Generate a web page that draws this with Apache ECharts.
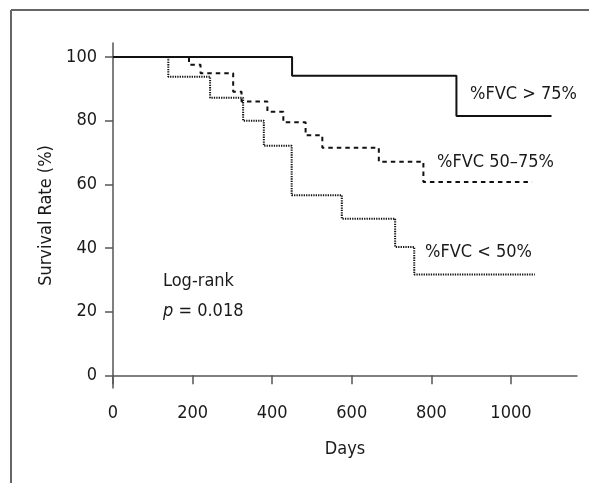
<!DOCTYPE html>
<html>
<head>
<meta charset="utf-8">
<script src="https://cdn.jsdelivr.net/npm/echarts@6/dist/echarts.min.js"></script>
<style>
  html, body { margin: 0; padding: 0; background: #fff; }
  #chart { width: 589px; height: 483px; }
</style>
</head>
<body>
<div id="chart"></div>
<script>
// Kaplan-Meier steps (days, survival %)
const highDays = [0, 450, 863, 1102];
const highSurv = [100, 94.1, 81.5, 81.5];

const midDays = [0, 191, 220, 302, 323, 388, 428, 484, 526, 668, 780, 1053];
const midSurv = [100, 97.6, 94.9, 89.1, 86, 82.8, 79.5, 75.4, 71.5, 67.1, 60.7, 60.7];

const lowDays = [0, 139, 244, 327, 379, 449, 575, 709, 757, 1060];
const lowSurv = [100, 93.8, 87.2, 80, 72.1, 56.6, 49.2, 40.3, 31.7, 31.7];

const xTicks = [0, 200, 400, 600, 800, 1000];
const yTicks = [0, 20, 40, 60, 80, 100];

const font = "'DejaVu Sans Condensed', 'Liberation Sans Narrow', sans-serif";
const ink = '#1a1a1a';
const axisColor = '#555';

function pairs(xs, ys) {
  return xs.map((x, i) => [x, ys[i]]);
}

const chart = echarts.init(document.getElementById('chart'));

chart.setOption({
  animation: false,
  grid: { left: 113, right: 12, top: 43, bottom: 95 },
  xAxis: {
    type: 'value',
    min: 0,
    max: 1166,
    name: 'Days',
    nameLocation: 'middle',
    nameGap: 52,
    nameTextStyle: { color: ink, fontSize: 18, fontFamily: font },
    axisLine: { show: true, lineStyle: { color: axisColor, width: 1.5 } },
    axisTick: { show: true, length: 9, customValues: xTicks, lineStyle: { color: axisColor, width: 1.5 } },
    axisLabel: {
      customValues: xTicks, margin: 16, color: ink, fontSize: 18, fontFamily: font,
      formatter: (v) => String(v),
    },
    splitLine: { show: false },
  },
  yAxis: {
    type: 'value',
    min: -4,
    max: 104.4,
    name: 'Survival Rate (%)',
    nameLocation: 'middle',
    nameGap: 58,
    nameTextStyle: { color: ink, fontSize: 18, fontFamily: font },
    axisLine: { show: true, lineStyle: { color: axisColor, width: 1.5 } },
    axisTick: { show: true, length: 8, customValues: yTicks, lineStyle: { color: axisColor, width: 1.5 } },
    axisLabel: {
      customValues: yTicks, margin: 16, color: ink, fontSize: 18, fontFamily: font,
      formatter: (v) => String(v),
    },
    splitLine: { show: false },
  },
  series: [
    {
      name: '%FVC < 50%',
      type: 'line',
      step: 'end',
      symbol: 'none',
      data: pairs(lowDays, lowSurv),
      lineStyle: { color: '#111', width: 2, type: [1.3, 1.1] },
    },
    {
      name: '%FVC 50–75%',
      type: 'line',
      step: 'end',
      symbol: 'none',
      data: pairs(midDays, midSurv),
      lineStyle: { color: '#111', width: 2, type: [4.5, 4] },
    },
    {
      name: '%FVC > 75%',
      type: 'line',
      step: 'end',
      symbol: 'none',
      data: pairs(highDays, highSurv),
      lineStyle: { color: '#111', width: 2 },
    },
  ],
  graphic: [
    // outer frame (top and left only)
    { type: 'line', shape: { x1: 11, y1: 10, x2: 589, y2: 10 }, style: { stroke: '#666', lineWidth: 2 } },
    { type: 'line', shape: { x1: 11, y1: 10, x2: 11, y2: 483 }, style: { stroke: '#666', lineWidth: 2 } },
    { type: 'text', left: 470, top: 85, style: { text: '%FVC > 75%', fill: ink, font: '18px ' + font } },
    { type: 'text', left: 437, top: 153, style: { text: '%FVC 50–75%', fill: ink, font: '18px ' + font } },
    { type: 'text', left: 425, top: 243, style: { text: '%FVC < 50%', fill: ink, font: '18px ' + font } },
    { type: 'text', left: 163, top: 272, style: { text: 'Log-rank', fill: ink, font: '18px ' + font } },
    {
      type: 'text', left: 163, top: 302,
      style: {
        text: '{i|p} = 0.018',
        fill: ink,
        font: '18px ' + font,
        rich: { i: { fontStyle: 'italic', fontSize: 18, fontFamily: font, fill: ink } },
      },
    },
  ],
});
</script>
</body>
</html>
